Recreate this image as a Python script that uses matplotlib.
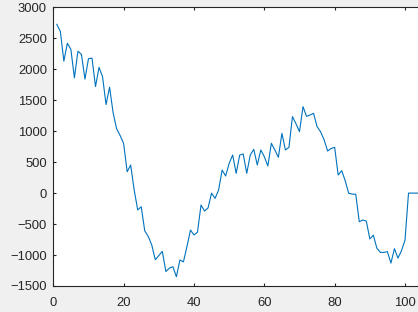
import numpy as np
import matplotlib
matplotlib.use('Agg')
import matplotlib.pyplot as plt

# values, one per step (x = 1, 2, 3, ...)
vals_a = [2725, 2610, 2130, 2420, 2320, 1860, 2290, 2240, 1840, 2170,
          2180, 1720, 2030, 1880, 1430, 1710, 1300, 1040, 930, 800]
vals_b = [345, 453, 50, -273, -220, -610, -700, -840, -1075, -1010,
          -940, -1266, -1212, -1188, -1350, -1080, -1110, -865, -596, -676]
vals_c = [-630, -192, -290, -240, 0, -85, 50, 373, 276, 480,
          615, 319, 615, 631, 319, 615, 707, 454, 696, 588]
vals_d = [437, 804, 696, 578, 965, 696, 739, 1235, 1120, 992,
          1396, 1240, 1261, 1288, 1073, 990, 860, 680, 720, 739]
vals_e = [292, 362, 200, -4, -15, -20, -462, -435, -451, -740,
          -680, -890, -957, -957, -946, -1130, -897, -1050, -930, -760]
vals_f = [0, 0, 0, 0, 0, 0, 0, 0, 0, 0]

y = np.array(vals_a + vals_b + vals_c + vals_d + vals_e + vals_f)
x = np.arange(1, len(y) + 1)

plt.rcParams['font.family'] = 'Liberation Sans'

fig = plt.figure(figsize=(4.18, 3.12), dpi=100, facecolor='#f0f0f0')
ax = fig.add_axes([53.3 / 418, 1 - 286 / 312, 1 - 53.3 / 418, (286 - 7.3) / 312])
ax.plot(x, y, color='#0072bd', lw=0.8)

ax.set_xlim(0, (418 - 53.3) / 3.517)
ax.set_ylim(-1500, 3000)
ax.set_xticks([0, 20, 40, 60, 80, 100])
ax.set_yticks(np.arange(-1500, 3001, 500))

for s in ['left', 'bottom', 'top']:
    ax.spines[s].set_color('#262626')
    ax.spines[s].set_linewidth(0.8)
ax.spines['right'].set_visible(False)
ax.tick_params(direction='in', length=2.5, width=0.8, color='#262626',
               labelcolor='#262626', labelsize=9.4, top=True, right=False)
ax.tick_params(axis='y', pad=4.6)
ax.tick_params(axis='x', pad=8)

plt.savefig('out.png', dpi=100, facecolor=fig.get_facecolor())
